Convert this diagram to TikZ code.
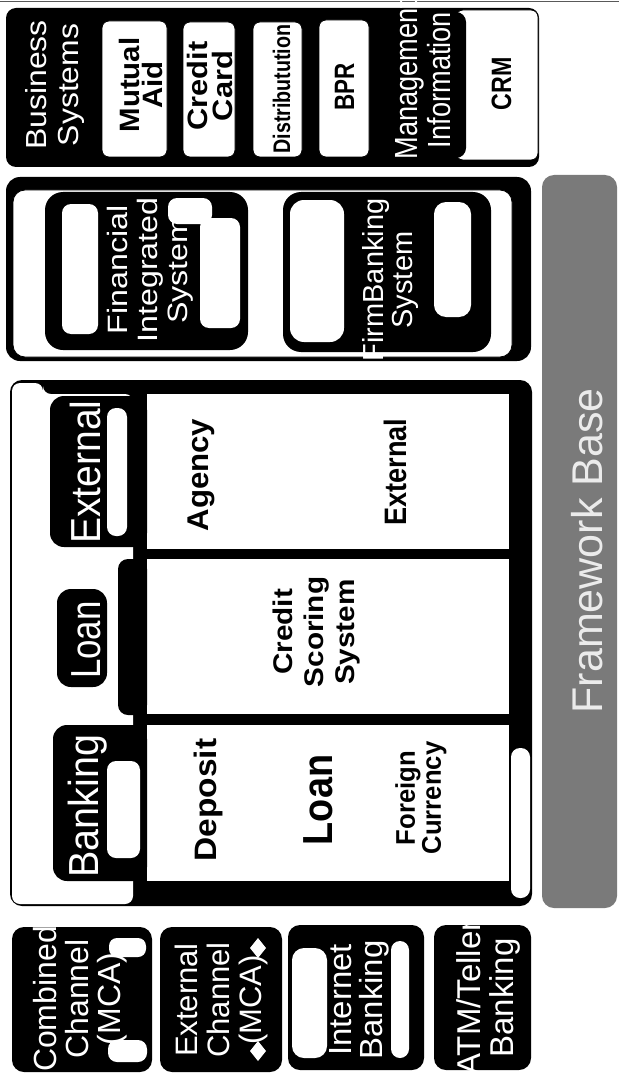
\documentclass[tikz,border=0pt]{standalone}
\usepackage{fontspec}
\setmainfont{Liberation Sans}
\newcommand\fsz[2]{\fontsize{#1}{#2}\selectfont}

\begin{document}
\begin{tikzpicture}[
    x=1pt, y=-1pt,
    lbl/.style={rotate=90, inner sep=0pt, align=center, text=white},
    dlbl/.style={rotate=90, inner sep=0pt, align=center, text=black},
    blk/.style={fill=black, rounded corners=10pt},
    wbox/.style={fill=white, draw=black, line width=0.8pt, rounded corners=7pt},
    glow/.style={fill=white, rounded corners=9pt},
]
\path[use as bounding box, fill=white] (0,0) rectangle (619,1078);
\draw[black!65, line width=1.5pt] (0,1.5) -- (619,1.5);

% business systems
\fill[blk] (6,8) rectangle (539,167);
\node[lbl, font=\fsz{29}{32}, xscale=1.1] (bsys) at (55,85) {Business\\Systems};
\path[wbox] (102,21) rectangle (167,157);
\node[dlbl, font=\bfseries\fsz{28}{23}, xscale=1.05] (mutual) at (141,85) {Mutual\\Aid};
\path[wbox] (183,22) rectangle (235,157);
\node[dlbl, font=\bfseries\fsz{28}{25}, xscale=1.1] (card) at (210,86) {Credit\\Card};
\path[wbox] (253,22) rectangle (302,157);
\node[dlbl, font=\bfseries\fsz{24}{24}, xscale=0.82, anchor=base] (distr) at (290,89) {Distributution};
\path[wbox] (319,20) rectangle (369,157);
\node[dlbl, font=\bfseries\fsz{28}{28}, xscale=0.8, anchor=base] (bpr) at (354,87) {BPR};
\path[wbox] (456,10) rectangle (538,160);
\fill[blk] (385,12) rectangle (466,158);
\node[lbl, font=\fsz{32}{33}, xscale=0.85] (mis) at (423,80) {Management\\Information};
\node[dlbl, font=\bfseries\fsz{28}{28}, xscale=0.83, anchor=base] (crm) at (511,84) {CRM};

% integrated systems
\fill[blk, rounded corners=14pt] (6,177) rectangle (531,361);
\path[wbox, rounded corners=12pt] (13,190) rectangle (512,357);
\fill[blk, rounded corners=18pt] (45,192) rectangle (248,350);
\fill[glow] (62,204) rectangle (98,334);
\fill[glow] (200,218) rectangle (240,328);
\fill[glow] (168,198) rectangle (212,224);
\node[lbl, font=\fsz{28}{30}, xscale=1.15] (fis) at (150,270) {Financial\\Integrated\\System};
\fill[blk, rounded corners=18pt] (283,192) rectangle (491,352);
\fill[glow, rounded corners=14pt] (290,200) rectangle (344,342);
\fill[glow, rounded corners=12pt] (434,202) rectangle (471,317);
\node[lbl, font=\fsz{29}{29}] (fbs) at (390,280) {FirmBanking\\System};

% framework base
\fill[black!52, rounded corners=12pt] (542,175) rectangle (617,908);
\node[lbl, text=white!92!black, font=\fsz{43}{43}, anchor=base] (fwb) at (602,551) {Framework Base};

% core banking
\fill[blk, rounded corners=12pt] (10,380) rectangle (532,906);
\fill[white, rounded corners=8pt] (12,383) -- (43,383) -- (43,394) -- (133,394)
    -- (133,904) -- (12,904) -- cycle;
\fill[white] (147,394) rectangle (509,549);
\fill[white] (147,559) rectangle (509,714);
\fill[white] (147,725) rectangle (509,881);
\fill[blk, rounded corners=14pt] (50,396) rectangle (147,547);
\fill[blk, rounded corners=14pt] (57,589) rectangle (107,687);
\fill[blk, rounded corners=10pt] (118,559) rectangle (147,715);
\fill[blk, rounded corners=14pt] (53,725) rectangle (147,881);
\fill[glow] (107,408) rectangle (127,536);
\fill[glow] (107,761) rectangle (140,858);
\fill[glow] (511,748) rectangle (530,898);
\node[lbl, font=\fsz{42}{42}, xscale=0.93, anchor=base] (tabext) at (100,472) {External};
\node[lbl, font=\fsz{42}{42}, xscale=0.83, anchor=base] (tabloan) at (100,640) {Loan};
\node[lbl, font=\fsz{42}{42}, xscale=0.94, anchor=base] (tabbank) at (98,806) {Banking};
\node[dlbl, font=\bfseries\fsz{30}{30}, xscale=1.04, anchor=base] (agency) at (208,475) {Agency};
\node[dlbl, font=\bfseries\fsz{31}{31}, xscale=0.875, anchor=base] (extern) at (406,472) {External};
\node[dlbl, font=\bfseries\fsz{27}{31}, xscale=1.1] (css) at (317,632) {Credit\\Scoring\\System};
\node[dlbl, font=\bfseries\fsz{31}{31}, xscale=1.08, anchor=base] (deposit) at (216,800) {Deposit};
\node[dlbl, font=\bfseries\fsz{42}{42}, xscale=0.9, anchor=base] (loan) at (332,800) {Loan};
\node[dlbl, font=\bfseries\fsz{27}{26}, xscale=0.95] (forex) at (421,798) {Foreign\\Currency};

% channels
\fill[blk, rounded corners=12pt] (12,927) rectangle (152,1072);
\fill[glow, rounded corners=8pt] (109,938) rectangle (146,957);
\fill[glow, rounded corners=9pt] (108,1040) rectangle (147,1062);
\node[lbl, font=\fsz{32}{32}] (mca) at (80,999) {Combined\\Channel\\(MCA)};
\fill[blk, rounded corners=12pt] (160,927) rectangle (282,1072);
\fill[white] (258,938) -- (266,948) -- (258,958) -- (250,948) -- cycle;
\fill[white] (258,1041) -- (266,1051) -- (258,1061) -- (250,1051) -- cycle;
\node[lbl, font=\fsz{31}{32}] (emca) at (221,1000) {External\\Channel\\(MCA)};
\fill[blk, rounded corners=12pt] (288,925) rectangle (424,1070);
\fill[glow, rounded corners=12pt] (292,948) rectangle (327,1058);
\fill[glow] (391,941) rectangle (409,1058);
\node[lbl, font=\fsz{32}{31}, xscale=1.03] (ib) at (359,1000) {Internet\\Banking};
\fill[blk, rounded corners=12pt] (434,925) rectangle (531,1070);
\node[lbl, font=\fsz{33}{33}] (atm) at (488,998) {ATM/Teller\\Banking};
\end{tikzpicture}
\end{document}
